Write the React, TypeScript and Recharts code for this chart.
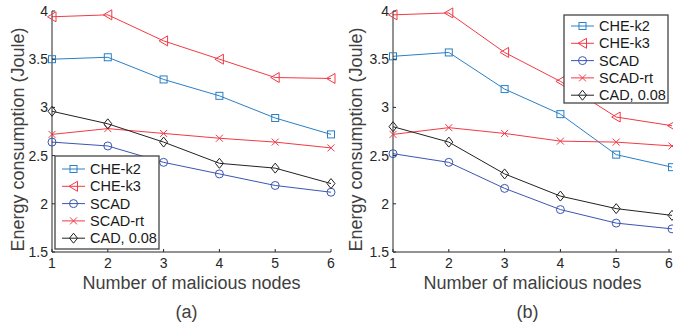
import React from 'react';
import { LineChart, Line, XAxis, YAxis } from 'recharts';

const nodes = [1, 2, 3, 4, 5, 6];
const yTicks = [1.5, 2, 2.5, 3, 3.5, 4];

// panel (a)
const cheK2A = [3.5, 3.52, 3.29, 3.12, 2.89, 2.72];
const cheK3A = [3.94, 3.96, 3.69, 3.5, 3.31, 3.3];
const scadA = [2.64, 2.6, 2.43, 2.31, 2.19, 2.12];
const scadRtA = [2.72, 2.78, 2.73, 2.68, 2.64, 2.58];
const cadA = [2.96, 2.83, 2.64, 2.42, 2.37, 2.21];

// panel (b)
const cheK2B = [3.53, 3.57, 3.19, 2.93, 2.51, 2.38];
const cheK3B = [3.96, 3.98, 3.57, 3.27, 2.9, 2.81];
const scadB = [2.52, 2.43, 2.16, 1.94, 1.8, 1.74];
const scadRtB = [2.72, 2.79, 2.73, 2.65, 2.64, 2.6];
const cadB = [2.8, 2.64, 2.31, 2.08, 1.95, 1.88];

const FONT = '"Liberation Sans", Arial, sans-serif';
const AXIS = '#262626';

type Kind = 'square' | 'triangle' | 'circle' | 'cross' | 'diamond';

const series: { key: string; name: string; color: string; kind: Kind }[] = [
  { key: 'k2', name: 'CHE-k2', color: '#2a7fc6', kind: 'square' },
  { key: 'k3', name: 'CHE-k3', color: '#f23a45', kind: 'triangle' },
  { key: 'scad', name: 'SCAD', color: '#3b55b4', kind: 'circle' },
  { key: 'rt', name: 'SCAD-rt', color: '#f23a45', kind: 'cross' },
  { key: 'cad', name: 'CAD, 0.08', color: '#222222', kind: 'diamond' },
];

function marker(kind: Kind, color: string, cx: number, cy: number, key?: number) {
  const p = { fill: 'none', stroke: color, strokeWidth: 1 };
  switch (kind) {
    case 'square':
      return <rect key={key} x={cx - 3.5} y={cy - 3.5} width={7} height={7} {...p} />;
    case 'triangle':
      return <polygon key={key} points={`${cx - 4.5},${cy} ${cx + 4},${cy - 5} ${cx + 4},${cy + 5}`} {...p} />;
    case 'circle':
      return <circle key={key} cx={cx} cy={cy} r={4} {...p} />;
    case 'cross':
      return (
        <path key={key} d={`M${cx - 3.5},${cy - 3.5}L${cx + 3.5},${cy + 3.5}M${cx - 3.5},${cy + 3.5}L${cx + 3.5},${cy - 3.5}`} {...p} />
      );
    default:
      return <polygon key={key} points={`${cx},${cy - 5} ${cx + 4},${cy} ${cx},${cy + 5} ${cx - 4},${cy}`} {...p} />;
  }
}

function Panel({
  left,
  width,
  marginRight,
  values,
  tag,
  ylabelX,
  legend,
}: {
  left: number;
  width: number;
  marginRight: number;
  values: number[][];
  tag: string;
  ylabelX: number;
  legend: { x: number; y: number; h: number; first: number };
}) {
  const data = nodes.map((n, i) => {
    const row: Record<string, number> = { n };
    series.forEach((s, j) => (row[s.key] = values[j][i]));
    return row;
  });

  return (
    <div style={{ position: 'absolute', left, top: 0, width, height: 325 }}>
      <LineChart width={width} height={325} data={data} margin={{ top: 11, right: marginRight, left: 0, bottom: 0 }}>
        <XAxis
          dataKey="n"
          type="number"
          domain={[1, 6]}
          ticks={nodes}
          height={73}
          tickSize={0}
          tickMargin={0}
          stroke={AXIS}
          tick={(t: any) => (
            <g>
              <line x1={t.x} x2={t.x} y1={t.y} y2={t.y - 3} stroke={AXIS} />
              <text x={t.x} y={t.y + 16} textAnchor="middle" fontSize={14} fill={AXIS} fontFamily={FONT}>
                {t.payload.value}
              </text>
            </g>
          )}
          label={{
            content: (p: any) => {
              const vb = p.viewBox;
              const cx = vb.x + vb.width / 2;
              return (
                <g fontFamily={FONT} fill="#404040">
                  <text x={cx} y={vb.y + 37} textAnchor="middle" fontSize={18}>
                    Number of malicious nodes
                  </text>
                  <text x={cx - 5} y={vb.y + 66} textAnchor="middle" fontSize={18}>
                    {tag}
                  </text>
                </g>
              );
            },
          }}
        />
        <XAxis
          xAxisId="top"
          dataKey="n"
          type="number"
          domain={[1, 6]}
          ticks={nodes}
          orientation="top"
          height={0}
          tickSize={0}
          tickMargin={0}
          stroke={AXIS}
          tick={(t: any) => <line x1={t.x} x2={t.x} y1={t.y} y2={t.y + 3} stroke={AXIS} />}
        />
        <YAxis
          type="number"
          domain={[1.5, 4]}
          ticks={yTicks}
          width={52}
          tickSize={0}
          tickMargin={0}
          stroke={AXIS}
          tick={(t: any) => (
            <g>
              <line x1={t.x} x2={t.x + 3} y1={t.y} y2={t.y} stroke={AXIS} />
              <text x={t.x - 4} y={t.y + 5} textAnchor="end" fontSize={14} fill={AXIS} fontFamily={FONT}>
                {t.payload.value}
              </text>
            </g>
          )}
          label={{
            content: (p: any) => {
              const vb = p.viewBox;
              const cy = vb.y + vb.height / 2 + 8;
              return (
                <text
                  x={ylabelX}
                  y={cy}
                  transform={`rotate(-90 ${ylabelX} ${cy})`}
                  textAnchor="middle"
                  dominantBaseline="central"
                  fontSize={18}
                  fill="#404040"
                  fontFamily={FONT}
                >
                  Energy consumption (Joule)
                </text>
              );
            },
          }}
        />
        <YAxis
          yAxisId="right"
          type="number"
          domain={[1.5, 4]}
          ticks={yTicks}
          orientation="right"
          width={0}
          tickSize={0}
          tickMargin={0}
          stroke={AXIS}
          tick={(t: any) => <line x1={t.x} x2={t.x - 3} y1={t.y} y2={t.y} stroke={AXIS} />}
        />
        {series.map((s) => (
          <Line
            key={s.key}
            dataKey={s.key}
            stroke={s.color}
            strokeWidth={1}
            isAnimationActive={false}
            dot={(d: any) => marker(s.kind, s.color, d.cx, d.cy, d.index)}
            activeDot={false}
          />
        ))}
      </LineChart>
      <svg
        width={106}
        height={legend.h + 2}
        style={{ position: 'absolute', left: legend.x - left - 1, top: legend.y - 1 }}
      >
        <rect x={1} y={1} width={104} height={legend.h} fill="#fff" stroke="#444" strokeWidth={1.3} />
        {series.map((s, i) => {
          const y = 1 + legend.first + i * 17.3;
          return (
            <g key={s.key}>
              <line x1={8} x2={31} y1={y} y2={y} stroke={s.color} strokeWidth={1} />
              {marker(s.kind, s.color, 19.5, y)}
              <text x={36} y={y + 5} fontSize={14.5} fill="#1a1a1a" fontFamily={FONT}>
                {s.name}
              </text>
            </g>
          );
        })}
      </svg>
    </div>
  );
}

export default function App() {
  return (
    <div style={{ position: 'absolute', left: 0, top: 0, width: 673, height: 325, background: '#fff' }}>
      <Panel
        left={0}
        width={340}
        marginRight={9}
        values={[cheK2A, cheK3A, scadA, scadRtA, cadA]}
        tag="(a)"
        ylabelX={18}
        legend={{ x: 55, y: 156, h: 93, first: 13 }}
      />
      <Panel
        left={341}
        width={332}
        marginRight={1}
        values={[cheK2B, cheK3B, scadB, scadRtB, cadB]}
        tag="(b)"
        ylabelX={15}
        legend={{ x: 564, y: 15, h: 88, first: 11 }}
      />
    </div>
  );
}
